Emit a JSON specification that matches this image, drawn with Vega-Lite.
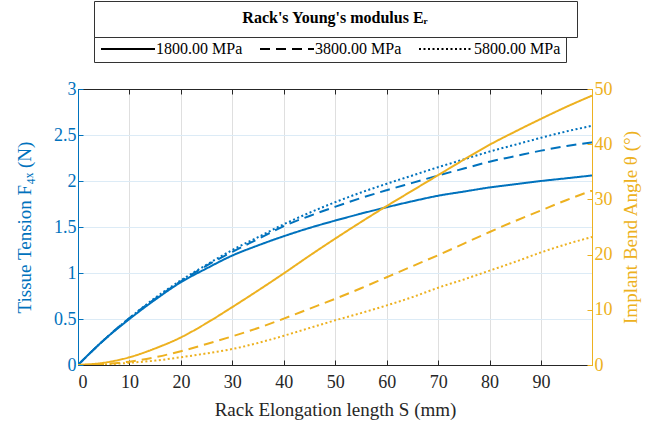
{
  "$schema": "https://vega.github.io/schema/vega-lite/v6.json",
  "autosize": "none",
  "width": 514,
  "height": 276,
  "padding": {"left": 78, "top": 89, "right": 78, "bottom": 61},
  "background": "white",
  "config": {
    "view": {"stroke": null},
    "font": "Liberation Serif",
    "axis": {"labelFont": "Liberation Serif", "titleFont": "Liberation Serif", "labelFontSize": 18, "titleFontSize": 19, "titleFontWeight": "normal"}
  },
  "data": {
    "values": [
      {"S": 0, "v": 0, "q": "F", "E": "1800.00 MPa"},
      {"S": 5, "v": 0.27, "q": "F", "E": "1800.00 MPa"},
      {"S": 10, "v": 0.5, "q": "F", "E": "1800.00 MPa"},
      {"S": 15, "v": 0.71, "q": "F", "E": "1800.00 MPa"},
      {"S": 20, "v": 0.9, "q": "F", "E": "1800.00 MPa"},
      {"S": 25, "v": 1.05, "q": "F", "E": "1800.00 MPa"},
      {"S": 30, "v": 1.19, "q": "F", "E": "1800.00 MPa"},
      {"S": 35, "v": 1.3, "q": "F", "E": "1800.00 MPa"},
      {"S": 40, "v": 1.4, "q": "F", "E": "1800.00 MPa"},
      {"S": 45, "v": 1.49, "q": "F", "E": "1800.00 MPa"},
      {"S": 50, "v": 1.57, "q": "F", "E": "1800.00 MPa"},
      {"S": 55, "v": 1.645, "q": "F", "E": "1800.00 MPa"},
      {"S": 60, "v": 1.715, "q": "F", "E": "1800.00 MPa"},
      {"S": 65, "v": 1.78, "q": "F", "E": "1800.00 MPa"},
      {"S": 70, "v": 1.84, "q": "F", "E": "1800.00 MPa"},
      {"S": 75, "v": 1.885, "q": "F", "E": "1800.00 MPa"},
      {"S": 80, "v": 1.93, "q": "F", "E": "1800.00 MPa"},
      {"S": 85, "v": 1.965, "q": "F", "E": "1800.00 MPa"},
      {"S": 90, "v": 2.0, "q": "F", "E": "1800.00 MPa"},
      {"S": 95, "v": 2.03, "q": "F", "E": "1800.00 MPa"},
      {"S": 99.9, "v": 2.06, "q": "F", "E": "1800.00 MPa"},
      {"S": 0, "v": 0, "q": "F", "E": "3800.00 MPa"},
      {"S": 5, "v": 0.27, "q": "F", "E": "3800.00 MPa"},
      {"S": 10, "v": 0.51, "q": "F", "E": "3800.00 MPa"},
      {"S": 15, "v": 0.72, "q": "F", "E": "3800.00 MPa"},
      {"S": 20, "v": 0.91, "q": "F", "E": "3800.00 MPa"},
      {"S": 25, "v": 1.08, "q": "F", "E": "3800.00 MPa"},
      {"S": 30, "v": 1.23, "q": "F", "E": "3800.00 MPa"},
      {"S": 35, "v": 1.37, "q": "F", "E": "3800.00 MPa"},
      {"S": 40, "v": 1.51, "q": "F", "E": "3800.00 MPa"},
      {"S": 45, "v": 1.62, "q": "F", "E": "3800.00 MPa"},
      {"S": 50, "v": 1.72, "q": "F", "E": "3800.00 MPa"},
      {"S": 55, "v": 1.815, "q": "F", "E": "3800.00 MPa"},
      {"S": 60, "v": 1.9, "q": "F", "E": "3800.00 MPa"},
      {"S": 65, "v": 1.98, "q": "F", "E": "3800.00 MPa"},
      {"S": 70, "v": 2.06, "q": "F", "E": "3800.00 MPa"},
      {"S": 75, "v": 2.135, "q": "F", "E": "3800.00 MPa"},
      {"S": 80, "v": 2.21, "q": "F", "E": "3800.00 MPa"},
      {"S": 85, "v": 2.27, "q": "F", "E": "3800.00 MPa"},
      {"S": 90, "v": 2.33, "q": "F", "E": "3800.00 MPa"},
      {"S": 95, "v": 2.38, "q": "F", "E": "3800.00 MPa"},
      {"S": 99.9, "v": 2.42, "q": "F", "E": "3800.00 MPa"},
      {"S": 0, "v": 0, "q": "F", "E": "5800.00 MPa"},
      {"S": 5, "v": 0.27, "q": "F", "E": "5800.00 MPa"},
      {"S": 10, "v": 0.51, "q": "F", "E": "5800.00 MPa"},
      {"S": 15, "v": 0.73, "q": "F", "E": "5800.00 MPa"},
      {"S": 20, "v": 0.92, "q": "F", "E": "5800.00 MPa"},
      {"S": 25, "v": 1.09, "q": "F", "E": "5800.00 MPa"},
      {"S": 30, "v": 1.25, "q": "F", "E": "5800.00 MPa"},
      {"S": 35, "v": 1.39, "q": "F", "E": "5800.00 MPa"},
      {"S": 40, "v": 1.53, "q": "F", "E": "5800.00 MPa"},
      {"S": 45, "v": 1.655, "q": "F", "E": "5800.00 MPa"},
      {"S": 50, "v": 1.77, "q": "F", "E": "5800.00 MPa"},
      {"S": 55, "v": 1.875, "q": "F", "E": "5800.00 MPa"},
      {"S": 60, "v": 1.97, "q": "F", "E": "5800.00 MPa"},
      {"S": 65, "v": 2.06, "q": "F", "E": "5800.00 MPa"},
      {"S": 70, "v": 2.15, "q": "F", "E": "5800.00 MPa"},
      {"S": 75, "v": 2.235, "q": "F", "E": "5800.00 MPa"},
      {"S": 80, "v": 2.32, "q": "F", "E": "5800.00 MPa"},
      {"S": 85, "v": 2.395, "q": "F", "E": "5800.00 MPa"},
      {"S": 90, "v": 2.47, "q": "F", "E": "5800.00 MPa"},
      {"S": 95, "v": 2.54, "q": "F", "E": "5800.00 MPa"},
      {"S": 99.9, "v": 2.6, "q": "F", "E": "5800.00 MPa"},
      {"S": 0, "v": 0, "q": "T", "E": "1800.00 MPa"},
      {"S": 5, "v": 0.4, "q": "T", "E": "1800.00 MPa"},
      {"S": 10, "v": 1.4, "q": "T", "E": "1800.00 MPa"},
      {"S": 15, "v": 3.0, "q": "T", "E": "1800.00 MPa"},
      {"S": 20, "v": 5.0, "q": "T", "E": "1800.00 MPa"},
      {"S": 25, "v": 7.6, "q": "T", "E": "1800.00 MPa"},
      {"S": 30, "v": 10.5, "q": "T", "E": "1800.00 MPa"},
      {"S": 35, "v": 13.5, "q": "T", "E": "1800.00 MPa"},
      {"S": 40, "v": 16.6, "q": "T", "E": "1800.00 MPa"},
      {"S": 45, "v": 19.8, "q": "T", "E": "1800.00 MPa"},
      {"S": 50, "v": 22.9, "q": "T", "E": "1800.00 MPa"},
      {"S": 55, "v": 25.9, "q": "T", "E": "1800.00 MPa"},
      {"S": 60, "v": 28.8, "q": "T", "E": "1800.00 MPa"},
      {"S": 65, "v": 31.6, "q": "T", "E": "1800.00 MPa"},
      {"S": 70, "v": 34.4, "q": "T", "E": "1800.00 MPa"},
      {"S": 75, "v": 37.2, "q": "T", "E": "1800.00 MPa"},
      {"S": 80, "v": 39.9, "q": "T", "E": "1800.00 MPa"},
      {"S": 85, "v": 42.3, "q": "T", "E": "1800.00 MPa"},
      {"S": 90, "v": 44.6, "q": "T", "E": "1800.00 MPa"},
      {"S": 95, "v": 46.8, "q": "T", "E": "1800.00 MPa"},
      {"S": 99.9, "v": 48.8, "q": "T", "E": "1800.00 MPa"},
      {"S": 0, "v": 0, "q": "T", "E": "3800.00 MPa"},
      {"S": 5, "v": 0.2, "q": "T", "E": "3800.00 MPa"},
      {"S": 10, "v": 0.6, "q": "T", "E": "3800.00 MPa"},
      {"S": 15, "v": 1.4, "q": "T", "E": "3800.00 MPa"},
      {"S": 20, "v": 2.5, "q": "T", "E": "3800.00 MPa"},
      {"S": 25, "v": 3.8, "q": "T", "E": "3800.00 MPa"},
      {"S": 30, "v": 5.2, "q": "T", "E": "3800.00 MPa"},
      {"S": 35, "v": 6.7, "q": "T", "E": "3800.00 MPa"},
      {"S": 40, "v": 8.4, "q": "T", "E": "3800.00 MPa"},
      {"S": 45, "v": 10.2, "q": "T", "E": "3800.00 MPa"},
      {"S": 50, "v": 12.0, "q": "T", "E": "3800.00 MPa"},
      {"S": 55, "v": 13.9, "q": "T", "E": "3800.00 MPa"},
      {"S": 60, "v": 15.9, "q": "T", "E": "3800.00 MPa"},
      {"S": 65, "v": 17.9, "q": "T", "E": "3800.00 MPa"},
      {"S": 70, "v": 19.9, "q": "T", "E": "3800.00 MPa"},
      {"S": 75, "v": 22.0, "q": "T", "E": "3800.00 MPa"},
      {"S": 80, "v": 24.1, "q": "T", "E": "3800.00 MPa"},
      {"S": 85, "v": 26.1, "q": "T", "E": "3800.00 MPa"},
      {"S": 90, "v": 28.0, "q": "T", "E": "3800.00 MPa"},
      {"S": 95, "v": 29.9, "q": "T", "E": "3800.00 MPa"},
      {"S": 99.9, "v": 31.6, "q": "T", "E": "3800.00 MPa"},
      {"S": 0, "v": 0, "q": "T", "E": "5800.00 MPa"},
      {"S": 5, "v": 0.1, "q": "T", "E": "5800.00 MPa"},
      {"S": 10, "v": 0.4, "q": "T", "E": "5800.00 MPa"},
      {"S": 15, "v": 0.8, "q": "T", "E": "5800.00 MPa"},
      {"S": 20, "v": 1.4, "q": "T", "E": "5800.00 MPa"},
      {"S": 25, "v": 2.1, "q": "T", "E": "5800.00 MPa"},
      {"S": 30, "v": 2.9, "q": "T", "E": "5800.00 MPa"},
      {"S": 35, "v": 4.0, "q": "T", "E": "5800.00 MPa"},
      {"S": 40, "v": 5.3, "q": "T", "E": "5800.00 MPa"},
      {"S": 45, "v": 6.7, "q": "T", "E": "5800.00 MPa"},
      {"S": 50, "v": 8.1, "q": "T", "E": "5800.00 MPa"},
      {"S": 55, "v": 9.4, "q": "T", "E": "5800.00 MPa"},
      {"S": 60, "v": 10.8, "q": "T", "E": "5800.00 MPa"},
      {"S": 65, "v": 12.3, "q": "T", "E": "5800.00 MPa"},
      {"S": 70, "v": 14.0, "q": "T", "E": "5800.00 MPa"},
      {"S": 75, "v": 15.5, "q": "T", "E": "5800.00 MPa"},
      {"S": 80, "v": 17.1, "q": "T", "E": "5800.00 MPa"},
      {"S": 85, "v": 18.7, "q": "T", "E": "5800.00 MPa"},
      {"S": 90, "v": 20.4, "q": "T", "E": "5800.00 MPa"},
      {"S": 95, "v": 21.9, "q": "T", "E": "5800.00 MPa"},
      {"S": 99.9, "v": 23.2, "q": "T", "E": "5800.00 MPa"}
    ]
  },
  "layer": [
    {
      "transform": [{"filter": "datum.q === 'F'"}],
      "mark": {"type": "line", "color": "#0072BD", "strokeWidth": 2, "interpolate": "monotone", "clip": true},
      "encoding": {
        "x": {
          "field": "S", "type": "quantitative",
          "scale": {"domain": [0, 99.9], "nice": false, "zero": false},
          "axis": {
            "orient": "bottom", "title": "Rack Elongation length S (mm)",
            "values": [0, 10, 20, 30, 40, 50, 60, 70, 80, 90],
            "grid": true, "gridColor": "#dfdfdf", "gridWidth": 1,
            "domainColor": "#262626", "tickColor": "#262626", "tickSize": -5,
            "labelColor": "#262626", "titleColor": "#262626",
            "labelPadding": 13, "titlePadding": 9
          }
        },
        "y": {
          "field": "v", "type": "quantitative",
          "scale": {"domain": [0, 3], "nice": false},
          "axis": {
            "orient": "left", "title": "Tissue Tension F₄ₓ (N)",
            "values": [0, 0.5, 1, 1.5, 2, 2.5, 3], "format": "~g",
            "grid": true, "gridColor": "#dcebf6", "gridWidth": 1,
            "domainColor": "#0072BD", "tickColor": "#0072BD", "tickSize": -5,
            "labelColor": "#0072BD", "titleColor": "#0072BD",
            "labelPadding": 7, "titlePadding": 19
          }
        },
        "strokeDash": {
          "field": "E", "type": "nominal",
          "scale": {"domain": ["1800.00 MPa", "3800.00 MPa", "5800.00 MPa"], "range": [[1, 0], [10, 6], [2, 2.5]]},
          "legend": {
            "title": null,
            "orient": "none", "legendX": 16, "legendY": -53,
            "direction": "horizontal", "columns": 3,
            "labelFont": "Liberation Serif", "labelFontSize": 16, "labelColor": "#000", "labelOffset": 20,
            "symbolType": "M-9,0H9", "symbolSize": 36, "symbolOffset": 21, "symbolStrokeColor": "#000", "symbolStrokeWidth": 2, "symbolFillColor": "transparent",
            "columnPadding": 13, "padding": 5,
            "strokeColor": "#333", "fillColor": "white"
          }
        }
      }
    },
    {
      "transform": [{"filter": "datum.q === 'T'"}],
      "mark": {"type": "line", "strokeWidth": 2, "interpolate": "monotone", "clip": true},
      "encoding": {
        "x": {
          "field": "S", "type": "quantitative",
          "scale": {"domain": [0, 99.9], "nice": false, "zero": false},
          "axis": {
            "orient": "top", "title": null, "labels": false,
            "values": [0, 10, 20, 30, 40, 50, 60, 70, 80, 90],
            "grid": false,
            "domainColor": "#262626", "tickColor": "#262626", "tickSize": -5
          }
        },
        "y": {
          "field": "v", "type": "quantitative",
          "scale": {"domain": [0, 50], "nice": false},
          "axis": {
            "orient": "right", "title": "Implant Bend Angle θ (°)", "titleAngle": 270, "titleBaseline": "top",
            "values": [0, 10, 20, 30, 40, 50],
            "grid": false,
            "domainColor": "#EDB120", "tickColor": "#EDB120", "tickSize": -5,
            "labelColor": "#EDB120", "titleColor": "#EDB120",
            "labelPadding": 7, "titlePadding": 9
          }
        },
        "color": {
          "datum": "Rack's Young's modulus Eᵣ", "type": "nominal",
          "scale": {"range": ["#EDB120"]},
          "legend": {
            "title": "Rack's Young's modulus Eᵣ",
            "orient": "none", "legendX": 16, "legendY": -88,
            "titleFont": "Liberation Serif", "titleFontSize": 16, "titleFontWeight": "bold", "titleColor": "#000",
            "titleAnchor": "middle", "titleLimit": 600, "titlePadding": 0,
            "symbolSize": 0, "symbolOpacity": 0, "symbolStrokeWidth": 0,
            "labelFont": "DejaVu Sans Mono", "labelFontSize": 2, "labelOpacity": 0, "labelOffset": 0, "labelLimit": 2000,
            "labelExpr": "pad('', 384, '_')",
            "padding": 9,
            "strokeColor": "#333", "fillColor": "white"
          }
        },
        "strokeDash": {
          "field": "E", "type": "nominal",
          "scale": {"domain": ["1800.00 MPa", "3800.00 MPa", "5800.00 MPa"], "range": [[1, 0], [10, 6], [2, 2.5]]},
          "legend": null
        }
      }
    }
  ],
  "resolve": {"scale": {"y": "independent"}, "axis": {"x": "independent"}}
}
